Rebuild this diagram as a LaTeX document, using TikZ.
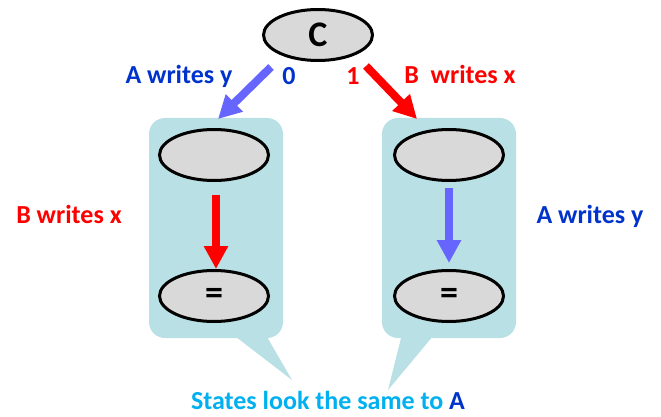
\documentclass[tikz,border=0pt]{standalone}
\usepackage{fontspec}
\setmainfont{Carlito}
\usetikzlibrary{shapes.geometric,arrows.meta}
\definecolor{callout}{HTML}{B9E0E4}
\definecolor{nodegray}{HTML}{D9D9D9}
\definecolor{arrblue}{HTML}{6666FF}
\definecolor{txtblue}{HTML}{0033CC}
\definecolor{txtred}{HTML}{FF0000}
\definecolor{lightblue}{HTML}{00B0F0}
\tikzset{
  state/.style={ellipse, draw=black, line width=3pt, fill=nodegray, minimum width=109pt, minimum height=51pt, inner sep=0pt, font=\fontsize{36}{40}\selectfont\bfseries},
  lbl/.style={anchor=base, inner sep=0pt, font=\fontsize{26}{30}\selectfont\bfseries},
  redarr/.style={draw=txtred, line width=8pt, -{Triangle[width=23pt,length=23pt]}, color=txtred},
  bluearr/.style={draw=arrblue, line width=8pt, -{Triangle[width=23pt,length=23pt]}, color=arrblue},
  bubble/.style={fill=callout, draw=none}
}
\begin{document}
\begin{tikzpicture}[x=1pt,y=-1pt]
\fill[white] (0,0) rectangle (661,417);
\useasboundingbox (0,0) rectangle (661,417);
% callouts
\fill[bubble, rounded corners=16pt] (149,118) rectangle (283,338);
\fill[bubble] (227,330) -- (263,330) -- (292,380) -- cycle;
\fill[bubble, rounded corners=16pt] (382,118) rectangle (516,338);
\fill[bubble] (403,330) -- (438,330) -- (388,390) -- cycle;
% nodes
\node[state] (c) at (318,35) {C};
\node[state] (l1) at (214,155) {};
\node[state] (l2) at (214,296) {=};
\node[state] (r1) at (449,155) {};
\node[state] (r2) at (449,296) {=};
% top arrows
\coordinate (b0) at (271,67);
\coordinate (b1) at (218,119);
\coordinate (q0) at (366,66);
\coordinate (q1) at (417,119);
\draw[bluearr] (b0) -- (b1);
\draw[redarr] (q0) -- (q1);
% inner arrows
\draw[redarr, shorten <=13pt] ([xshift=2pt]l1.south) -- ([xshift=2pt]l2.north);
\draw[bluearr, shorten <=6pt, shorten >=6pt] (r1.south) -- (r2.north);
% labels
\node[lbl, text=txtblue] (la) at (179,84) {A writes y};
\node[lbl, text=txtblue] (l0) at (289,85) {0};
\node[lbl, text=txtred] (l1t) at (353,85) {1};
\node[lbl, text=txtred] (lb) at (460,84) {B\ \ writes x};
\node[lbl, text=txtred] (lbx) at (69,223) {B writes x};
\node[lbl, text=txtblue] (lay) at (590,223) {A writes y};
\node[lbl, text=lightblue] (bot) at (328,409) {States look the same to \textcolor{txtblue}{A}};
\end{tikzpicture}
\end{document}
